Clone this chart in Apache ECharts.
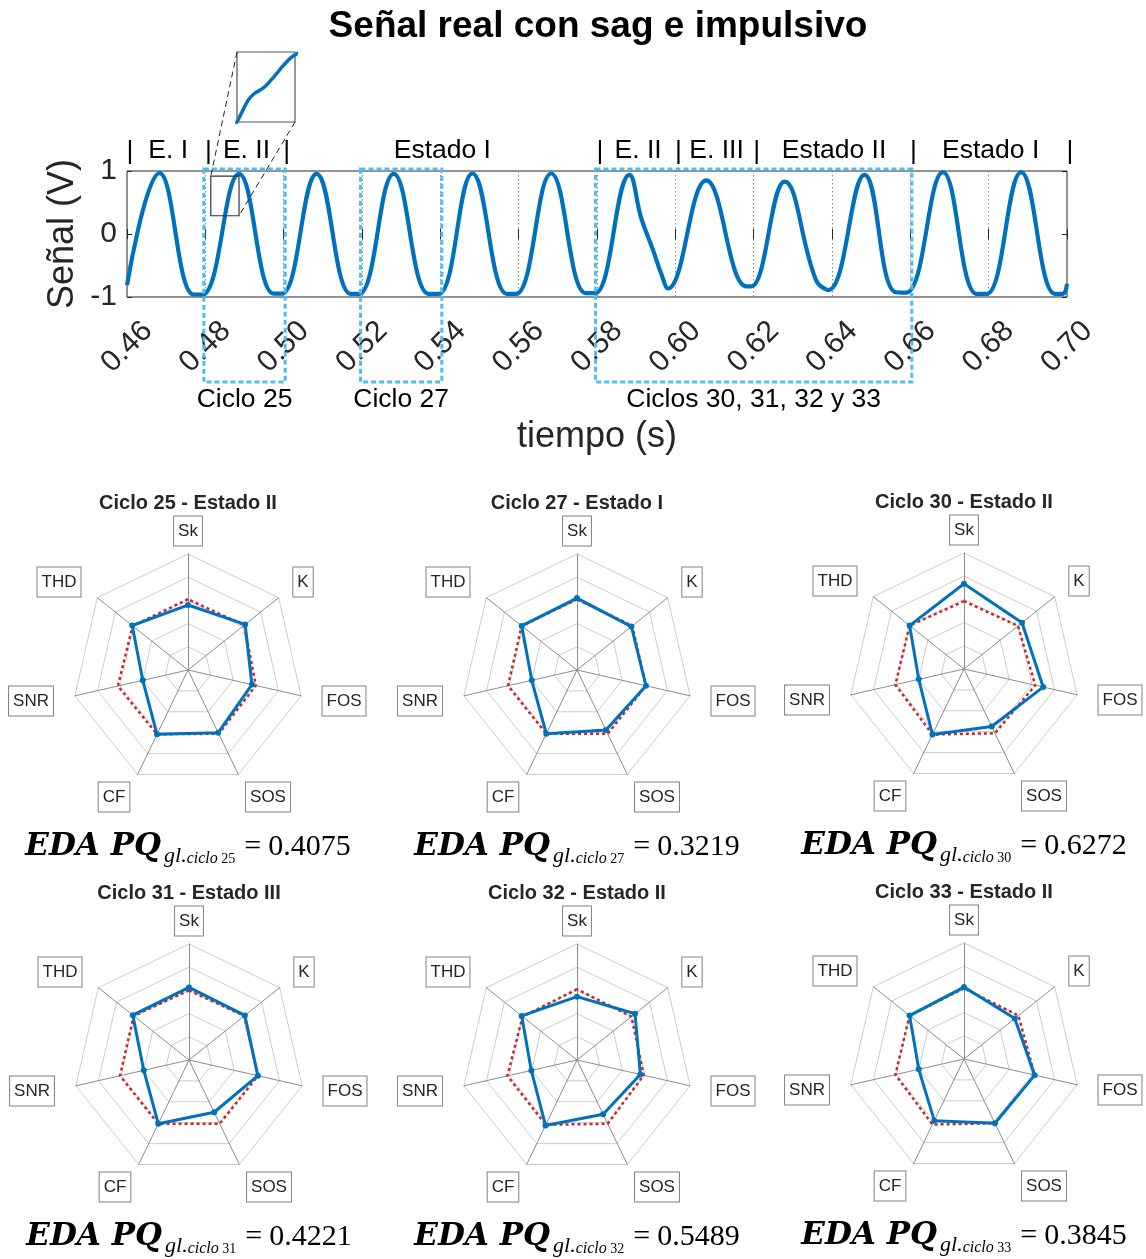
<!DOCTYPE html>
<html><head><meta charset="utf-8">
<script src="https://cdn.jsdelivr.net/npm/echarts@6/dist/echarts.min.js"></script>
<style>html,body{margin:0;padding:0;background:#fff}#c{width:1146px;height:1259px}</style>
</head><body><div id="c"></div>
<script>
// ---------------- DATA ----------------
// Signal extrema: time (s) and value (V)
const tiempo = [
  0.4600,
  0.4683, 0.4770, 0.4793,
  0.4886, 0.4974, 0.4996,
  0.5084, 0.5171, 0.5193,
  0.5281, 0.5370, 0.5396,
  0.5482, 0.5570, 0.5594,
  0.5683, 0.5771, 0.5795,
  0.5883, 0.5913, 0.5943, 0.5964, 0.5981,
  0.6079, 0.6181, 0.6194,
  0.6279, 0.6359, 0.6391,
  0.6483, 0.6560, 0.6590,
  0.6683, 0.6769, 0.6795,
  0.6883, 0.6969, 0.6990,
  0.7000
];
const senal = [
  -0.81,
  0.965, -0.96, -0.96,
  0.955, -0.945, -0.945,
  0.955, -0.95, -0.95,
  0.955, -0.95, -0.95,
  0.96, -0.95, -0.95,
  0.96, -0.94, -0.94,
  0.94, 0.25, -0.255, -0.63, -0.865,
  0.85, -0.83, -0.83,
  0.83, -0.73, -0.89,
  0.94, -0.92, -0.93,
  0.98, -0.95, -0.95,
  0.98, -0.95, -0.95,
  -0.79
];
// Curve shown inside the zoom inset
const insetTiempo = [0.4843, 0.4846, 0.48532, 0.4857, 0.48635, 0.48684, 0.48745, 0.48794, 0.48832, 0.4887];
const insetSenal  = [0.18, 0.25, 0.47, 0.536, 0.60, 0.68, 0.793, 0.879, 0.929, 0.96];

const ejeXmin = 0.46, ejeXmax = 0.70, ejeXpaso = 0.02;
const ejeYmin = -1, ejeYmax = 1, ejeYpaso = 1;

const estadosLimites = [0.46, 0.48, 0.50, 0.58, 0.60, 0.62, 0.66, 0.70];
const estadosNombres = ['E. I', 'E. II', 'Estado I', 'E. II', 'E. III', 'Estado II', 'Estado I'];
const ciclosVentanas = [[0.48, 0.50], [0.52, 0.54], [0.58, 0.66]];
const ciclosEtiquetas = ['Ciclo 25', 'Ciclo 27', 'Ciclos 30, 31, 32 y 33'];
const zoomRegionT = [0.4814, 0.4886];
const zoomRegionV = [0.29, 0.92];
const insetVentanaT = [0.4846, 0.4884];
const insetVentanaV = [0.25, 0.965];

// Radar charts
const indicadores = ['Sk', 'K', 'FOS', 'SOS', 'CF', 'SNR', 'THD'];
const radarTitulos = ['Ciclo 25 - Estado II', 'Ciclo 27 - Estado I', 'Ciclo 30 - Estado II',
                      'Ciclo 31 - Estado III', 'Ciclo 32 - Estado II', 'Ciclo 33 - Estado II'];
const ciclo25Azul = [0.56, 0.63, 0.565, 0.60, 0.615, 0.40, 0.615];
const ciclo25Rojo = [0.61, 0.62, 0.60, 0.61, 0.615, 0.62, 0.61];
const ciclo27Azul = [0.62, 0.60, 0.61, 0.575, 0.61, 0.40, 0.61];
const ciclo27Rojo = [0.61, 0.61, 0.61, 0.61, 0.61, 0.61, 0.61];
const ciclo30Azul = [0.735, 0.64, 0.70, 0.55, 0.627, 0.40, 0.60];
const ciclo30Rojo = [0.585, 0.595, 0.63, 0.615, 0.627, 0.607, 0.60];
const ciclo31Azul = [0.626, 0.616, 0.609, 0.50, 0.61, 0.40, 0.62];
const ciclo31Rojo = [0.60, 0.61, 0.61, 0.61, 0.61, 0.61, 0.61];
const ciclo32Azul = [0.546, 0.64, 0.56, 0.52, 0.626, 0.404, 0.61];
const ciclo32Rojo = [0.61, 0.60, 0.59, 0.61, 0.62, 0.615, 0.60];
const ciclo33Azul = [0.62, 0.56, 0.625, 0.615, 0.59, 0.40, 0.60];
const ciclo33Rojo = [0.61, 0.60, 0.625, 0.615, 0.627, 0.607, 0.60];
const edaCiclos = ['25', '27', '30', '31', '32', '33'];
const edaValores = ['0.4075', '0.3219', '0.6272', '0.4221', '0.5489', '0.3845'];

// ---------------- LAYOUT / STYLE ----------------
const azulRadar = [ciclo25Azul, ciclo27Azul, ciclo30Azul, ciclo31Azul, ciclo32Azul, ciclo33Azul];
const rojoRadar = [ciclo25Rojo, ciclo27Rojo, ciclo30Rojo, ciclo31Rojo, ciclo32Rojo, ciclo33Rojo];
const radarCentros = [[188, 670], [577, 670], [964, 669], [189, 1060], [577, 1060], [964, 1059]];
const RADIO = 116;
// label-box centre offsets from the radar centre (Sk, K, FOS, SOS, CF, SNR, THD)
const etiquetaOffset = [[0, -139], [115, -88], [156, 31], [80, 127], [-74, 127], [-157, 31], [-129, -88]];
const ordenCCW = [0, 6, 5, 4, 3, 2, 1];
const reorden = a => ordenCCW.map(i => a[i]);
const SANS = 'Liberation Sans';
const AZUL = '#0072BD';

const chart = echarts.init(document.getElementById('c'), null, {renderer: 'canvas'});
const puntos = tiempo.map((t, i) => [t, senal[i]]);
const puntosInset = insetTiempo.map((t, i) => [t, insetSenal[i]]);

const radars = radarCentros.map(c => ({
  center: c, radius: RADIO, startAngle: 90, splitNumber: 5, shape: 'polygon',
  indicator: ordenCCW.map(i => ({name: indicadores[i], min: 0, max: 1})),
  axisName: {show: false},
  splitLine: {lineStyle: {color: '#cccccc', width: 1}},
  splitArea: {show: false},
  axisLine: {lineStyle: {color: '#8c8c8c', width: 1}},
  axisTick: {show: false}, axisLabel: {show: false}
}));

const series = [
  {type: 'line', xAxisIndex: 0, yAxisIndex: 0, data: puntos, smooth: 0.42, symbol: 'none',
   lineStyle: {color: AZUL, width: 4.2}, z: 3, silent: true},
  {type: 'line', xAxisIndex: 2, yAxisIndex: 2, data: puntosInset, smooth: 0.4, symbol: 'none', clip: true,
   lineStyle: {color: AZUL, width: 3.5}, z: 3, silent: true}
];
radarCentros.forEach((c, k) => {
  series.push({type: 'radar', radarIndex: k, symbol: 'none', silent: true,
    lineStyle: {color: '#C8262A', width: 2.5, type: [3, 3]},
    data: [{value: reorden(rojoRadar[k])}]});
  series.push({type: 'radar', radarIndex: k, symbol: 'circle', symbolSize: 6, silent: true,
    itemStyle: {color: AZUL}, lineStyle: {color: AZUL, width: 3},
    data: [{value: reorden(azulRadar[k])}]});
});

const tickTxt = {fontSize: 30, fontFamily: SANS, color: '#262626'};
const option = {
  animation: false,
  backgroundColor: '#fff',
  grid: [
    {left: 127, top: 171, width: 940, height: 126, show: true, borderColor: '#262626', borderWidth: 1, outerBoundsMode: 'none'},
    {left: 237, top: 52, width: 58, height: 70, show: true, borderColor: '#555', borderWidth: 1.2, outerBoundsMode: 'none'}
  ],
  xAxis: [
    {type: 'value', gridIndex: 0, min: ejeXmin, max: ejeXmax, interval: ejeXpaso,
     axisLine: {show: false}, axisTick: {show: true, inside: true, length: 5, lineStyle: {color: '#262626'}},
     axisLabel: Object.assign({rotate: 45, align: 'center', verticalAlign: 'middle', margin: 50,
       formatter: v => v.toFixed(2)}, tickTxt),
     splitLine: {show: true, lineStyle: {color: '#888', width: 1, type: [1.5, 2.5]}}},
    {type: 'value', gridIndex: 0, position: 'top', min: ejeXmin, max: ejeXmax, interval: ejeXpaso,
     axisLine: {show: false}, axisTick: {show: true, inside: true, length: 5, lineStyle: {color: '#262626'}},
     axisLabel: {show: false}, splitLine: {show: false}},
    {type: 'value', gridIndex: 1, min: insetVentanaT[0], max: insetVentanaT[1], show: false}
  ],
  yAxis: [
    {type: 'value', gridIndex: 0, min: ejeYmin, max: ejeYmax, interval: ejeYpaso,
     axisLine: {show: false}, axisTick: {show: true, inside: true, length: 5, lineStyle: {color: '#262626'}},
     axisLabel: Object.assign({margin: 10}, tickTxt), splitLine: {show: false}},
    {type: 'value', gridIndex: 0, position: 'right', min: ejeYmin, max: ejeYmax, interval: ejeYpaso,
     axisLine: {show: false}, axisTick: {show: true, inside: true, length: 5, lineStyle: {color: '#262626'}},
     axisLabel: {show: false}, splitLine: {show: false}},
    {type: 'value', gridIndex: 1, min: insetVentanaV[0], max: insetVentanaV[1], show: false}
  ],
  radar: radars,
  series: series
};
chart.setOption(option);

// --------- annotations positioned through the axes' scales ---------
const px = t => chart.convertToPixel({xAxisIndex: 0}, t);
const py = v => chart.convertToPixel({yAxisIndex: 0}, v);
const ctx = document.createElement('canvas').getContext('2d');
const medir = (font, s) => { ctx.font = font; return ctx.measureText(s).width; };
const txt = (s, x, y, o) => ({type: 'text', z: 20, style: Object.assign({text: s, x: x, y: y, fill: '#000',
  fontFamily: SANS, fontSize: 26.5, textAlign: 'center', textVerticalAlign: 'middle'}, o || {})});

const g = [];
const yTop = py(ejeYmax), yBot = py(ejeYmin);
g.push(txt('Señal real con sag e impulsivo', 598, 27, {fontSize: 37, fontWeight: 'bold'}));
g.push(Object.assign(txt('Señal (V)', 0, 0, {fontSize: 36, fill: '#262626'}), {x: 63, y: (yTop + yBot) / 2, rotation: Math.PI / 2}));
g.push(txt('tiempo (s)', (px(ejeXmin) + px(ejeXmax)) / 2, 437, {fontSize: 36, fill: '#262626'}));

// state separators and names
estadosLimites.forEach(t => g.push(txt('|', px(t) + 3, 152)));
estadosNombres.forEach((n, i) => g.push(txt(n, (px(estadosLimites[i]) + px(estadosLimites[i + 1])) / 2 + 2, 151)));

// cycle windows
ciclosVentanas.forEach((w, i) => {
  const x0 = px(w[0]) - 1.5, x1 = px(w[1]) + 1.5;
  g.push({type: 'rect', z: 15, shape: {x: x0, y: yTop - 2, width: x1 - x0, height: 382 - (yTop - 2)},
    style: {fill: 'none', stroke: '#4DBEEE', lineWidth: 3, lineDash: [5, 3]}});
  g.push(txt(ciclosEtiquetas[i], (x0 + x1) / 2, 400));
});

// zoom rectangle and connectors to the inset
const rx0 = px(zoomRegionT[0]), rx1 = px(zoomRegionT[1]);
const ry0 = py(zoomRegionV[1]), ry1 = py(zoomRegionV[0]);
g.push({type: 'rect', z: 15, shape: {x: rx0, y: ry0, width: rx1 - rx0, height: ry1 - ry0},
  style: {fill: 'none', stroke: '#333', lineWidth: 1.2}});
const ix0 = chart.convertToPixel({xAxisIndex: 2}, insetVentanaT[0]);
const ix1 = chart.convertToPixel({xAxisIndex: 2}, insetVentanaT[1]);
const iy0 = chart.convertToPixel({yAxisIndex: 2}, insetVentanaV[1]);
const iy1 = chart.convertToPixel({yAxisIndex: 2}, insetVentanaV[0]);
g.push({type: 'line', z: 15, shape: {x1: ix0, y1: iy0, x2: rx0, y2: ry0}, style: {stroke: '#222', lineWidth: 1, lineDash: [6, 4]}});
g.push({type: 'line', z: 15, shape: {x1: ix1, y1: iy1, x2: rx1, y2: ry1}, style: {stroke: '#222', lineWidth: 1, lineDash: [6, 4]}});

// radar titles, indicator label boxes and EDA formulas
radarCentros.forEach((c, k) => {
  g.push(txt(radarTitulos[k], c[0], c[1] - 167, {fontSize: 20, fontWeight: 'bold', fill: '#262626'}));
  indicadores.forEach((n, j) => {
    g.push(txt(n, c[0] + etiquetaOffset[j][0], c[1] + etiquetaOffset[j][1], {fontSize: 17, fill: '#262626',
      lineHeight: 21, padding: [4, 4, 4, 4], backgroundColor: '#fff', borderColor: '#808080', borderWidth: 1}));
  });
  const base = c[1] + 187;
  const partes = [
    {t: 'EDA PQ', fam: 'DejaVu Serif', fs: 31, st: 'italic', fw: 'bold', dy: 0, pre: 0},
    {t: 'gl.', fam: 'Liberation Serif', fs: 22, st: 'italic', fw: 'normal', dy: 6.5, pre: 3},
    {t: 'ciclo', fam: 'Liberation Serif', fs: 16, st: 'italic', fw: 'normal', dy: 7.5, pre: 0},
    {t: ' ' + edaCiclos[k], fam: 'Liberation Serif', fs: 14, st: 'normal', fw: 'normal', dy: 7.5, pre: 0},
    {t: '=', fam: 'Liberation Serif', fs: 30, st: 'normal', fw: 'normal', dy: 0, pre: 9},
    {t: edaValores[k], fam: 'Liberation Serif', fs: 30, st: 'normal', fw: 'normal', dy: 0, pre: 7}
  ];
  let total = 0;
  partes.forEach(p => { p.w = medir(`${p.st} ${p.fw} ${p.fs}px "${p.fam}"`, p.t); total += p.pre + p.w; });
  let x = c[0] - total / 2;
  partes.forEach(p => {
    x += p.pre;
    g.push(txt(p.t, x, base + p.dy - 0.34 * p.fs, {fontFamily: p.fam, fontSize: p.fs, fontStyle: p.st,
      fontWeight: p.fw, textAlign: 'left'}));
    x += p.w;
  });
});

chart.setOption({graphic: g});
</script></body></html>
